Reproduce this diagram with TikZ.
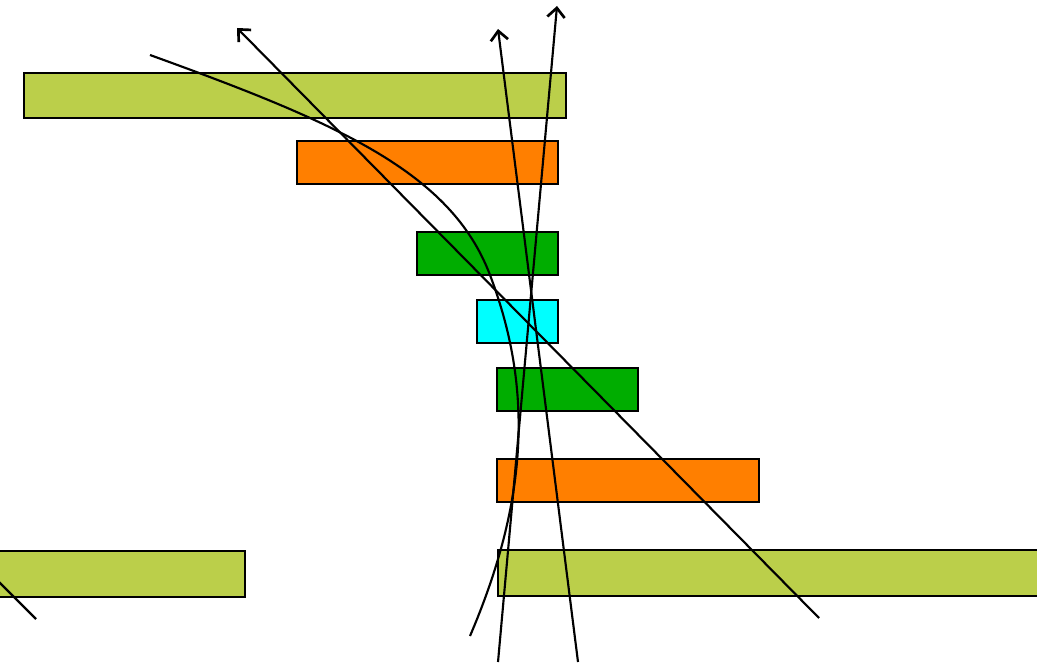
\documentclass[tikz,border=0pt]{standalone}
\usetikzlibrary{arrows.meta}
\definecolor{ygreen}{HTML}{BBCF4A}
\definecolor{orng}{HTML}{FF7F00}
\definecolor{grn}{HTML}{00AD00}
\definecolor{cyn}{HTML}{00FFFF}
\tikzset{
  bar/.style={draw=black, line width=1.4pt},
  ray/.style={draw=black, line width=1.6pt},
  tip/.style={-{Straight Barb[length=7pt,width=13pt,line width=2pt]}}
}
\begin{document}
\begin{tikzpicture}[x=0.75pt,y=-0.75pt]
\useasboundingbox (0,0) rectangle (1037,666);
\clip (0,0) rectangle (1037,666);
% bars
\draw[bar, fill=ygreen] (24,73) rectangle (566,118);
\draw[bar, fill=orng] (297,141) rectangle (558,184);
\draw[bar, fill=grn] (417,232) rectangle (558,275);
\draw[bar, fill=cyn] (477,300) rectangle (558,343);
\draw[bar, fill=grn] (497,368) rectangle (638,411);
\draw[bar, fill=orng] (497,459) rectangle (759,502);
\draw[bar, fill=ygreen] (-5,551) rectangle (245,597);
\draw[bar, fill=ygreen] (498,550) rectangle (1045,596);
% rays
\coordinate (a0) at (819,618); \coordinate (a1) at (237,28);
\coordinate (b0) at (498,662); \coordinate (b1) at (557,6);
\coordinate (c0) at (578,662); \coordinate (c1) at (498,29);
\coordinate (e0) at (-4,579); \coordinate (e1) at (36,619);
\coordinate (d0) at (150,55); \coordinate (dm) at (490,275); \coordinate (d1) at (470,636);
\draw[ray, tip] (a0) -- (a1);
\draw[ray, tip] (b0) -- (b1);
\draw[ray, tip] (c0) -- (c1);
\draw[ray] (e0) -- (e1);
\draw[ray] (d0) .. controls (338,123) and (451,172) .. (dm)
  .. controls (532.6,387.2) and (529,498) .. (d1);
\end{tikzpicture}
\end{document}
